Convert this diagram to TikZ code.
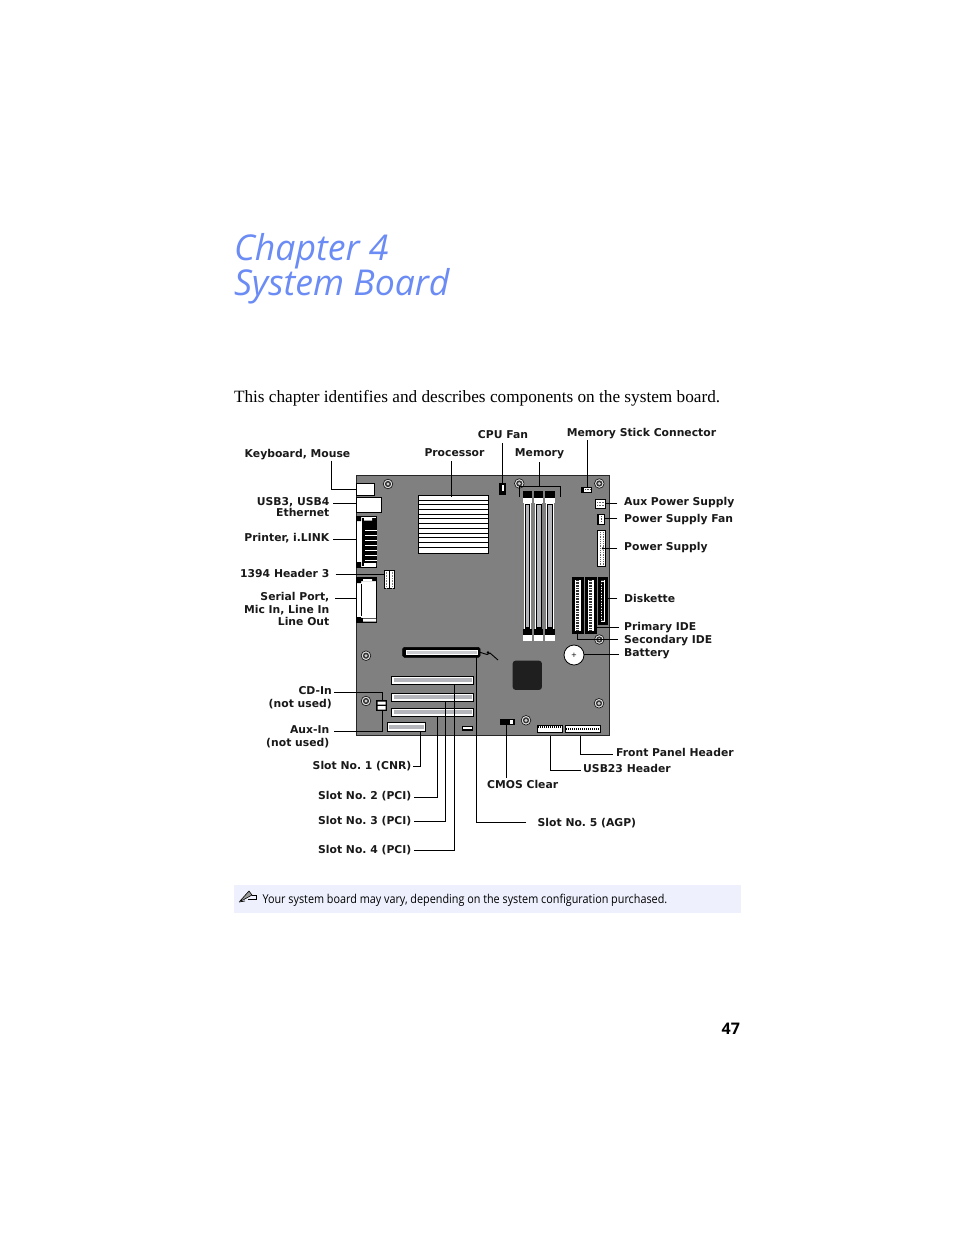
\documentclass[tikz,border=0pt]{standalone}
\usepackage{fontspec}
\setmainfont{DejaVu Sans}
\newfontfamily\titlefont[ItalicFont=* Italic]{Open Sans}
\newfontfamily\bodyfont{Liberation Serif}
\newfontfamily\notefont{Open Sans}
\definecolor{titleblue}{HTML}{6C8CF5}
\definecolor{boardgray}{HTML}{808080}
\definecolor{notebg}{HTML}{EEF1FD}
\definecolor{slotgray}{HTML}{B4B6BC}
\tikzset{
  lbl/.style={font=\bfseries\fontsize{10.8}{11}\selectfont,inner sep=0pt,text=black!90},
  lbr/.style={lbl,anchor=east},
  lbw/.style={lbl,anchor=west},
  conn/.style={draw=black,line width=0.8pt},
  whitebox/.style={draw=black,fill=white,line width=0.5pt},
  blackbox/.style={draw=black,fill=black,line width=0.5pt},
  slotbox/.style={draw=black,fill=white,line width=0.8pt},
  plain/.style={inner sep=0pt,outer sep=0pt,minimum width=0pt,minimum height=0pt},
}
\newcommand{\comp}[6]{%
  \pgfmathsetmacro{\cw}{#4-#2}\pgfmathsetmacro{\ch}{#5-#3}%
  \pgfmathsetmacro{\cx}{(#4+#2)/2}\pgfmathsetmacro{\cy}{(#5+#3)/2}%
  \node[#6,plain,minimum width=\cw pt,minimum height=\ch pt] (#1) at (\cx,\cy) {};}
\newcommand{\screw}[3]{%
  \node[circle,draw=black!90,fill=white!90!black,line width=0.7pt,minimum size=9.6pt,inner sep=0pt] (#1) at (#2,#3) {};
  \fill[black!80] (#2,#3) circle (3.1pt);
  \fill[white!80!black] (#2,#3) circle (1.7pt);}
\begin{document}
\frenchspacing
\begin{tikzpicture}[x=1pt,y=-1pt]
\useasboundingbox (0,0) rectangle (954,1235);
\fill[white] (0,0) rectangle (954,1235);
% title
\node[plain,anchor=base west,text=titleblue,font=\titlefont\itshape\fontsize{35.6}{36}\selectfont] (t1) at (234,260) {Chapter 4};
\node[plain,anchor=base west,text=titleblue,font=\titlefont\itshape\fontsize{35.6}{36}\selectfont] (t2) at (234,295) {System Board};
\node[plain,anchor=base west,font=\bodyfont\fontsize{17.23}{18}\selectfont] (intro) at (234,402) {This chapter identifies and describes components on the system board.};
% board
\comp{board}{356.3}{475.5}{609.7}{735.7}{draw=black!85,fill=boardgray,line width=0.9pt}
% screws
\screw{s1}{388}{484}\screw{s2}{519.3}{483.5}\screw{s3}{599.3}{483.5}\screw{s4}{599.3}{639.5}
\screw{s5}{366}{655.7}\screw{s6}{366}{701}\screw{s7}{526}{720.3}\screw{s8}{599}{703.3}
% io
\comp{kbd}{356.3}{483.3}{374.7}{495.3}{whitebox}
\comp{usb}{356.3}{497.3}{381.7}{512.3}{whitebox}
\comp{prn}{356.3}{516.7}{376.7}{567.3}{whitebox}
\fill[black] (362,518) rectangle (376.5,566);
\fill[white] (357,521) rectangle (361.5,563);
\fill[black] (356.5,517) rectangle (361,521) (356.5,562) rectangle (361,567);
\fill[white] (364,517.5) rectangle (372,520.5) (364,563) rectangle (376,566);
\foreach \yy in {530,535,540,545,550,555,560}{\fill[white] (365,\yy) rectangle (376.5,\yy+0.9);}
\comp{ser}{356.3}{577.3}{376.7}{622.3}{whitebox}
\fill[black] (356.5,578) rectangle (361,583) (356.5,617) rectangle (361,622.3) (361,578) rectangle (376.5,581) (361,618) rectangle (376.5,622.3);
\fill[white] (363,579) rectangle (372,581) (363,618.5) rectangle (376,621.5);
\draw[black,line width=0.5pt] (361,584) -- (361,616);
\comp{hdr}{384.3}{570.3}{394.7}{588.7}{whitebox}
\draw[black,line width=1pt] (389.5,570.3) -- (389.5,588.7);
\foreach \xx in {386.8,392.2}{\draw[black!50,line width=1pt,dash pattern=on 0.8pt off 0.8pt] (\xx,571.5) -- (\xx,588);}
% processor
\comp{cpu}{418.3}{495.3}{488.7}{553.3}{whitebox}
\foreach \yy in {500,504.7,509.4,514.1,523.5,528.2,532.9,542.3,547}{\draw[black,line width=0.5pt] (418.3,\yy) -- (488.7,\yy);}
\foreach \yy in {518.8,537.6}{\draw[black,line width=1.2pt] (418.3,\yy) -- (488.7,\yy);}
% cpu fan
\comp{cfan}{499.3}{483.3}{505.3}{494.7}{blackbox}
\fill[white] (501.5,485) rectangle (504.3,491);
% memory
\foreach \n/\xa/\xb in {a/523.3/531.7,b/534/543.3,c/545/555}{
  \comp{dimm\n}{\xa}{491}{\xb}{640.7}{draw=none}
  \fill[black] (\xa,491) rectangle (\xb,498);
  \fill[white] (\xa,498) rectangle (\xb,503);
  \fill[black] (\xa,629) rectangle (\xb,635);
  \fill[white] (\xa,635) rectangle (\xb,640.7);
  \fill[white] (\xa+1,503) rectangle (\xb-1,629);
  \fill[black] (\xa+1.7,503.5) rectangle (\xb-1.7,628.5);
  \fill[slotgray] (\xa+2.6,505) rectangle (\xb-2.6,627);
}
% right connectors
\comp{mstick}{581.3}{487.3}{591.7}{492.7}{whitebox}
\fill[black] (581.3,487.3) rectangle (584,492.7);
\draw[black!70,line width=1pt,dash pattern=on 0.8pt off 0.8pt] (585,489.5) -- (591,489.5);
\comp{aux}{595.3}{499}{605.7}{508.3}{whitebox}
\foreach \yy in {502,505}{\draw[black!60,line width=1pt,dash pattern=on 0.8pt off 0.8pt] (597,\yy) -- (604,\yy);}
\comp{psf}{597}{514}{604}{524.3}{whitebox}
\fill[black] (597,514) rectangle (599,524.3);
\draw[black!70,line width=1pt,dash pattern=on 0.8pt off 0.8pt] (601.5,516) -- (601.5,522);
\comp{psu}{597.7}{530.7}{605.7}{566}{whitebox}
\foreach \xx in {600,603}{\draw[black!60,line width=1pt,dash pattern=on 0.8pt off 1pt] (\xx,532) -- (\xx,565);}
\foreach \n/\xa/\xb/\yb in {pri/585.3/596/633.3,sec/572.3/583/633.3,fdd/598.3/607/624.3}{
  \comp{\n}{\xa}{577.3}{\xb}{\yb}{blackbox}
  \fill[white] (\xa+2.2,579.5) rectangle (\xb-2.2,\yb-2.2);
  \draw[black!80,line width=3pt,dash pattern=on 0.8pt off 0.8pt] ({(\xa+\xb)/2},580) -- ({(\xa+\xb)/2},\yb-3);
}
\fill[black] (601.5,582) rectangle (604,620);
\node[circle,draw=black,fill=white,line width=0.8pt,minimum size=20pt,inner sep=0pt] (bat) at (574,655) {};
\node[plain,font=\fontsize{7}{7}\selectfont] (batp) at (574,655) {+};
% chip
\node[plain,fill=black!88,rounded corners=3pt,minimum width=29.3pt,minimum height=29.3pt] (chip) at (527.3,675.3) {};
% slots
\comp{agp}{402.7}{647.3}{480}{657.3}{blackbox,rounded corners=1.5pt}
\fill[white] (405,649) rectangle (478.5,655.5);
\fill[slotgray!70] (406.5,650.5) rectangle (477,654);
\draw[black,line width=0.5pt] (405.5,649.5) rectangle (478,655);
\foreach \n/\ya/\yb in {pcifour/676/684.7,pcithree/693/701.7,pcitwo/708/716.7}{
  \comp{\n}{391.3}{\ya}{473.7}{\yb}{slotbox}
  \fill[slotgray] (393.5,\ya+2.4) rectangle (471.5,\yb-2.4);
}
\comp{cnr}{387}{722.3}{425.7}{731}{slotbox}
\fill[slotgray] (389,724.5) rectangle (423.7,729);
\comp{small}{462.3}{726}{472.7}{730.7}{whitebox}
\fill[black] (462.3,729) rectangle (472.7,730.7);
\comp{cmos}{500}{719.3}{514}{724}{blackbox}
\fill[white] (509.5,720) rectangle (513,723.5);
\comp{cd}{376.3}{700}{386.7}{710.7}{blackbox}
\fill[white] (377.5,701.5) rectangle (385.5,704.5) (377.5,706) rectangle (385.5,709.5);
\comp{usbh}{537.3}{725.7}{562.7}{732.7}{whitebox}
\draw[black,line width=1.4pt,dash pattern=on 1pt off 1pt] (538,727) -- (562,727);
\draw[black,line width=1pt] (537.3,732) -- (562.7,732);
\comp{fph}{565.3}{725.7}{600}{732}{whitebox}
\draw[black,line width=1.4pt,dash pattern=on 1pt off 1pt] (566,728.8) -- (599.5,728.8);
% squiggle
\coordinate (sq1) at (487,654.5);
\coordinate (sq2) at (490,653);
\coordinate (sq3) at (498,660);
\draw[black,line width=0.9pt] (agp.east) -- (sq1) -- (sq2) -- (sq3);
\fill[black] (488,652.5) circle (1.3pt);
% labels
\node[lbl] (lkbd) at (297.5,455) {Keyboard, Mouse};
\node[lbr] (lusb) at (329.5,502) {USB3, USB4};
\node[lbr] (leth) at (329.5,512) {Ethernet};
\node[lbr] (lprn) at (329.5,538) {Printer, i.LINK};
\node[lbr] (lhdr) at (329.5,573) {1394 Header 3};
\node[lbr] (lser) at (329.5,597) {Serial Port,};
\node[lbr] (lmic) at (329.5,610) {Mic In, Line In};
\node[lbr] (llin) at (329.5,621) {Line Out};
\node[lbl] (lcpu) at (454.5,453) {Processor};
\node[lbl] (lfan) at (503,435) {CPU Fan};
\node[lbl] (lmem) at (539.5,454) {Memory};
\node[lbl] (lmst) at (641.5,434) {Memory Stick Connector};
\node[lbw] (laux) at (624,503) {Aux Power Supply};
\node[lbw] (lpsf) at (624,520) {Power Supply Fan};
\node[lbw] (lpsu) at (624,548) {Power Supply};
\node[lbw] (ldsk) at (624,598) {Diskette};
\node[lbw] (lpri) at (624,628) {Primary IDE};
\node[lbw] (lsec) at (624,641) {Secondary IDE};
\node[lbw] (lbat) at (624,654) {Battery};
\node[lbr] (lcd) at (332,691) {CD-In};
\node[lbr] (lcdn) at (332,704) {(not used)};
\node[lbr] (lai) at (329.5,730) {Aux-In};
\node[lbr] (lain) at (329.5,743) {(not used)};
\node[lbr] (ls1) at (411.5,766) {Slot No. 1 (CNR)};
\node[lbr] (ls2) at (411.5,796) {Slot No. 2 (PCI)};
\node[lbr] (ls3) at (411.5,821) {Slot No. 3 (PCI)};
\node[lbr] (ls4) at (411.5,850) {Slot No. 4 (PCI)};
\node[lbw] (ls5) at (537.5,823) {Slot No. 5 (AGP)};
\node[lbw] (lcm) at (487,784) {CMOS Clear};
\node[lbw] (lub) at (583,768) {USB23 Header};
\node[lbw] (lfp) at (616,752) {Front Panel Header};
% connector free ends
\foreach \n/\xx/\yy in {ckbd/331.3/460.7,cusb/333.3/503.3,cprn/333.3/539.3,chdr/335.7/574.3,cser/335/598,
  ccpu/451.3/461.3,cfn/502.3/443.3,cmm/539.3/462.3,cms/587.3/440,caux/617.3/503.3,cpsf/617.3/518.3,cpsu/617.3/548.3,
  cdsk/617.3/598.3,cpri/619/627.7,csec/618/639,cbat/619/654.3,ccd/334.3/692.3,cai/334.3/731,
  cs1/413.3/766.7,cs2/414/797.3,cs3/414/821.7,cs4/414/850,cs5/526/822.3,ccm/506/778,cub/580.7/770,cfp/612.7/754,
  memL/519.3/486.7,memR/560/486.7,memLd/519.3/496.7,memRd/560/496.7,cdj/382.3/692.3,aij/382.3/731,
  psuI/603/548.3,secI/577.3/633.3,ppri/596.7/627.7}{\coordinate (\n) at (\xx,\yy);}
% connectors
\draw[conn] (ckbd) |- (kbd.west);
\draw[conn] (cusb) -- (cusb -| usb.west);
\draw[conn] (cprn) -- (cprn -| prn.west);
\draw[conn] (chdr) -- (chdr -| hdr.west);
\draw[conn] (cser) -- (cser -| ser.west);
\draw[black,line width=0.6pt] (ccpu) -- (ccpu |- cpu.north) -- ++(0,1.5);
\draw[conn] (cfn) -- (cfn |- cfan.north);
\draw[conn] (cmm) -- (cmm |- memL);
\draw[conn] (memLd) -- (memL) -- (memR) -- (memRd);
\draw[conn] (cms) -- (cms |- mstick.north);
\draw[conn] (caux) -- (caux -| aux.east);
\draw[conn] (cpsf) -- (cpsf -| psf.east);
\draw[conn] (cpsu) -- (psuI);
\fill[black] (psuI) circle (1.2pt);
\draw[conn] (cdsk) -- (cdsk -| fdd.east);
\draw[conn] (cpri) -- (ppri);
\draw[conn] (secI) |- (csec);
\draw[conn] (cbat) -- (cbat -| bat.east);
\draw[conn] (ccd) -- (cdj) -- (cdj |- cd.north);
\draw[conn] (cai) -- (aij) -- (aij |- cd.south);
\coordinate (j1) at (420.3,731);\coordinate (j2) at (437.7,716.7);\coordinate (j3) at (445.7,701.7);\coordinate (j4) at (454.7,684.7);\coordinate (j5) at (476.3,657.3);
\draw[conn] (cs1) -| (j1);
\draw[conn] (cs2) -| (j2);
\draw[conn] (cs3) -| (j3);
\draw[conn] (cs4) -| (j4);
\draw[conn] (cs5) -| (j5);
\draw[conn] (ccm) -- (ccm |- cmos.south);
\coordinate (j6) at (550.7,735.7);\coordinate (j7) at (580.3,735.7);
\draw[conn] (cub) -| (j6);
\draw[conn] (cfp) -| (j7);
% note bar
\comp{note}{234}{885}{741}{913}{fill=notebg}
\node[plain,anchor=base west,font=\notefont\fontsize{12.2}{13}\selectfont] (ntxt) at (262.5,903) {\scalebox{0.887}[1]{Your system board may vary, depending on the system configuration purchased.}};
% pencil icon
\coordinate (p1) at (240,901);\coordinate (p2) at (249,891);\coordinate (p3) at (252,895);\coordinate (p4) at (243,900);
\draw[black,line width=0.6pt,fill=white!60!black] (p1) -- (p2) -- (p3) -- (p4) -- cycle;
\draw[black,line width=0.5pt] (p3) -- (256,895) -- (256,899) -- (248,899);
\draw[black,line width=0.7pt] (239,902) -- (245,901);
% page number
\node[plain,anchor=base east,font=\notefont\bfseries\fontsize{16}{16}\selectfont] (pg) at (740,1034) {47};
\end{tikzpicture}
\end{document}
